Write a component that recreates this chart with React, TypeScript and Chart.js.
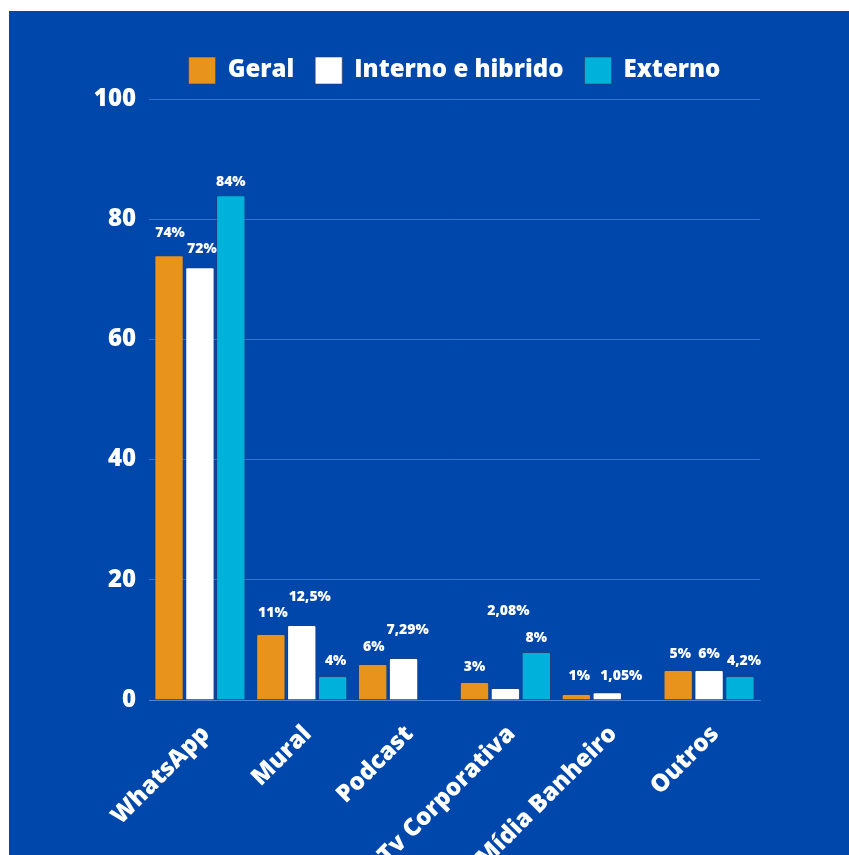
import React, { useEffect, useRef } from "react";
import { Chart, registerables } from "chart.js";

Chart.register(...registerables);

// ---- data ----
const categories = ["WhatsApp", "Mural", "Podcast", "Tv Corporativa", "Mídia Banheiro", "Outros"];
const seriesNames = ["Geral", "Interno e hibrido", "Externo"];
const geral = [74, 11, 6, 3, 1, 5];
const interno = [72, 12.5, 7, 2, 1.3, 5];
const externo = [84, 4, null, 8, null, 4];
const geralLabels = ["74%", "11%", "6%", "3%", "1%", "5%"];
const internoLabels = ["72%", "12,5%", "7,29%", "2,08%", "1,05%", "6%"];
const externoLabels = ["84%", "4%", "", "8%", "", "4,2%"];
const yMin = 0;
const yMax = 100;
const yStep = 20;

// ---- styles ----
const BG = "#0047AB";
const COLORS = ["#E8931C", "#FFFFFF", "#00B2DB"];
const GRID = "rgba(95,150,230,0.55)";
const FONT = "'Open Sans', 'DejaVu Sans', sans-serif";
const W = 800;
// label placement tweaks (pixels above bar top / horizontal nudge)
const labelLift = [
  [22, 21, 17, 15, 18, 16],
  [18, 28, 28, 77, 16, 16],
  [13, 15, 0, 14, 0, 15],
];
const labelDx = [
  [1, 2, 1, 0, 3, 2],
  [2, 8, 4, 3, 14, 0],
  [0, 3, 0, 0, 0, 4],
];

const valueLabelPlugin = {
  id: "valueLabels",
  afterDatasetsDraw(chart: any) {
    const ctx = chart.ctx;
    const allLabels = [geralLabels, internoLabels, externoLabels];
    ctx.save();
    ctx.fillStyle = "#FFFFFF";
    ctx.font = `${W} 14px ${FONT}`;
    ctx.textAlign = "center";
    ctx.textBaseline = "middle";
    chart.data.datasets.forEach((_: any, di: number) => {
      const meta = chart.getDatasetMeta(di);
      meta.data.forEach((el: any, i: number) => {
        const txt = allLabels[di][i];
        if (!txt) return;
        ctx.fillText(txt, el.x + labelDx[di][i], el.y - labelLift[di][i]);
      });
    });
    ctx.restore();
  },
};

export default function App() {
  const ref = useRef<HTMLCanvasElement | null>(null);

  useEffect(() => {
    if (!ref.current) return;
    const values = [geral, interno, externo];
    const chart = new Chart(ref.current, {
      type: "bar",
      data: {
        labels: categories,
        datasets: seriesNames.map((name, i) => ({
          label: name,
          data: values[i],
          backgroundColor: COLORS[i],
          borderColor: "rgba(50,60,90,0.55)",
          borderWidth: 1,
          borderRadius: 2,
          categoryPercentage: 0.91,
          barPercentage: 0.95,
        })),
      },
      options: {
        animation: false,
        responsive: false,
        maintainAspectRatio: false,
        layout: { padding: { top: 25, right: 89, bottom: 0, left: 0 } },
        plugins: {
          tooltip: { enabled: false },
          title: {
            display: true,
            text: "",
            weight: 500,
            padding: 0,
            font: { size: 5, lineHeight: 1 },
          } as any,
          legend: {
            display: true,
            position: "top",
            fullSize: false,
            labels: {
              color: "#FFFFFF",
              boxWidth: 27,
              boxHeight: 27,
              padding: 21,
              font: { family: FONT, size: 24, weight: W as any },
            },
          },
        },
        scales: {
          x: {
            grid: { display: false, drawTicks: false },
            border: { display: true, color: GRID, width: 1 },
            ticks: {
              color: "#FFFFFF",
              autoSkip: false,
              maxRotation: 45,
              minRotation: 45,
              padding: 20,
              labelOffset: 6,
              font: { family: FONT, size: 24, weight: W as any },
            },
            afterFit(axis: any) {
              axis.height = 155;
            },
          },
          y: {
            min: yMin,
            max: yMax,
            grid: { color: GRID, lineWidth: 1, drawTicks: false },
            border: { display: false },
            ticks: {
              stepSize: yStep,
              color: "#FFFFFF",
              padding: 13,
              font: { family: FONT, size: 24, weight: W as any },
            },
            afterFit(axis: any) {
              axis.width = 140;
            },
          },
        },
      },
      plugins: [valueLabelPlugin],
    });
    return () => chart.destroy();
  }, []);

  return (
    <div style={{ position: "fixed", left: 0, top: 0, width: 849, height: 855, background: "#FFFFFF", overflow: "hidden" }}>
      <div style={{ position: "absolute", left: 9, top: 11, width: 840, height: 844, background: BG }}>
        <canvas ref={ref} width={840} height={844} style={{ display: "block", width: 840, height: 844 }} />
      </div>
    </div>
  );
}
